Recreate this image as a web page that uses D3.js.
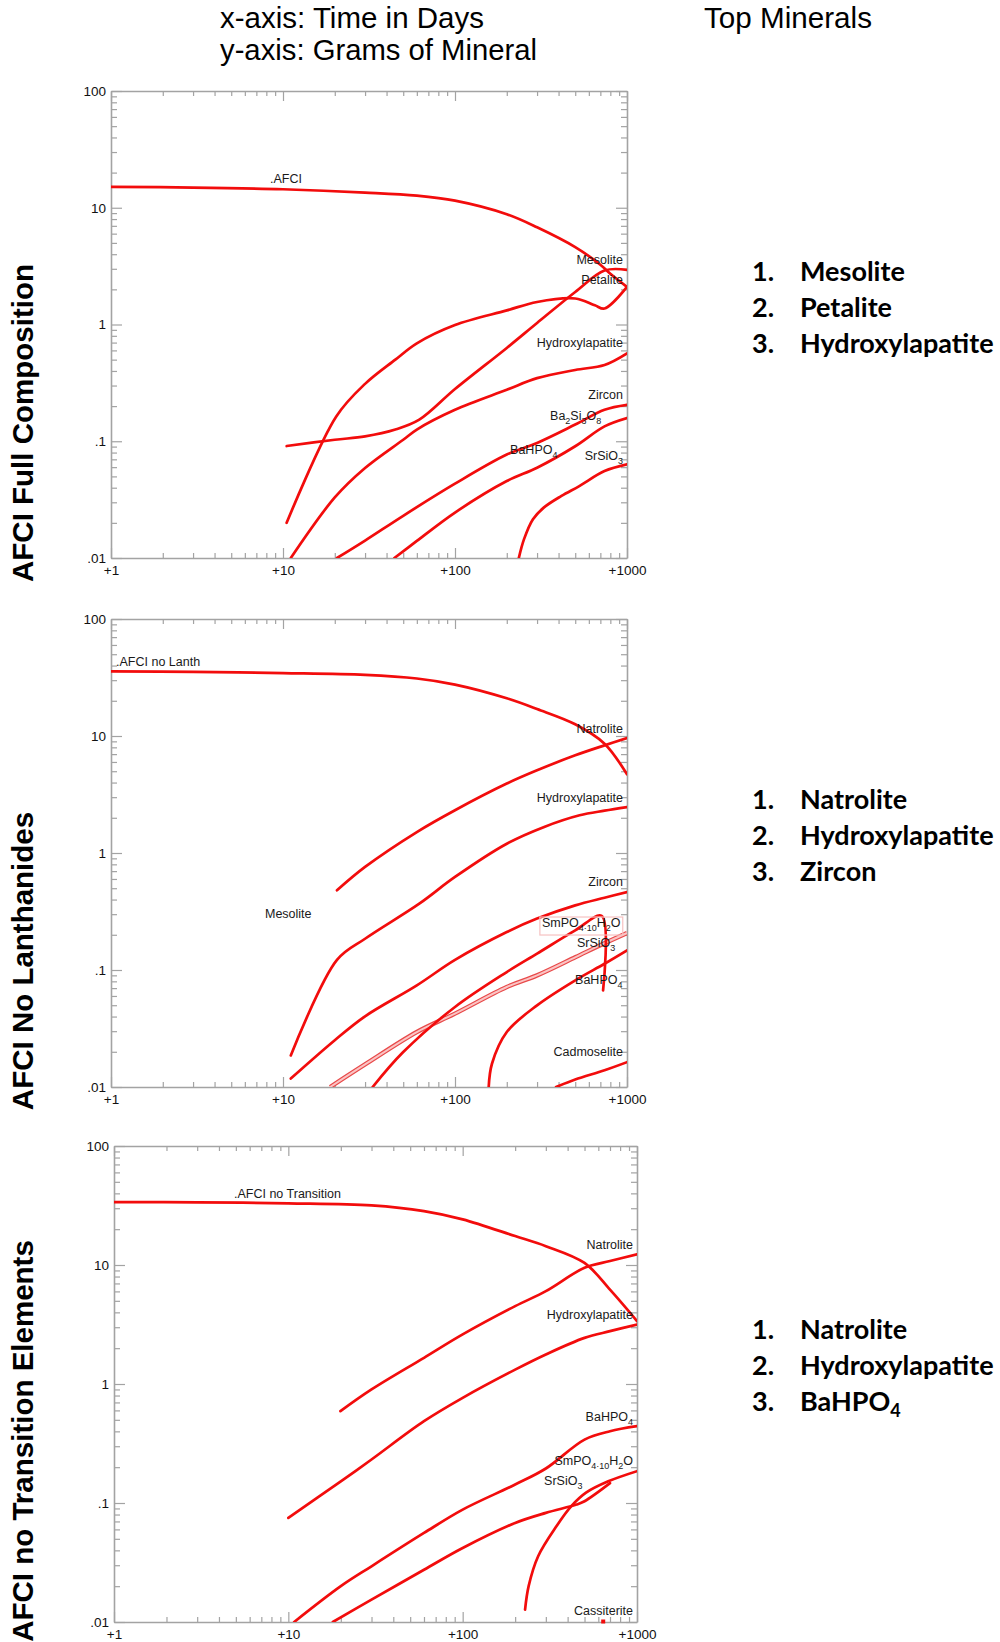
<!DOCTYPE html>
<html>
<head>
<meta charset="utf-8">
<script src="https://cdn.jsdelivr.net/npm/d3@7"></script>
<style>
	body { margin: 0; background: #fff; }
	svg { display: block; }
</style>
</head>
<body>
<script>
// values, each point is [days, grams]
var xTicks = [1, 10, 100, 1000];
var yTicks = [0.01, 0.1, 1, 10, 100];

// AFCI full composition
var fullAfci = [[1, 15.1], [3, 14.9], [10, 14.4], [30, 13.5], [60, 12.7], [100, 11.5], [200, 8.8], [300, 6.8], [500, 4.6], [700, 3.25], [800, 2.72], [1000, 2.1]];
var fullMesolite = [[10.5, 0.091], [20, 0.103], [30, 0.11], [45, 0.126], [62, 0.153], [100, 0.28], [200, 0.63], [300, 1.03], [500, 1.9], [740, 2.9], [1000, 2.94]];
var fullPetalite = [[10.5, 0.02], [20.4, 0.163], [30, 0.31], [45, 0.5], [60, 0.69], [100, 0.99], [200, 1.32], [300, 1.56], [500, 1.67], [650, 1.46], [740, 1.37], [1000, 2.1]];
var fullHydroxylapatite = [[11.1, 0.01], [20, 0.033], [30, 0.059], [50, 0.103], [60, 0.126], [100, 0.186], [200, 0.276], [300, 0.347], [500, 0.408], [740, 0.45], [1000, 0.566]];
var fullZircon = [[20.6, 0.01], [30, 0.0141], [50, 0.023], [100, 0.0433], [200, 0.0769], [300, 0.0968], [500, 0.139], [740, 0.186], [1000, 0.205]];
var fullBa2Si3O8 = [[44.4, 0.01], [60, 0.014], [100, 0.0245], [200, 0.0456], [300, 0.0593], [500, 0.0906], [740, 0.134], [1000, 0.158]];
var fullSrSiO3 = [[235, 0.01], [252, 0.0145], [284, 0.0215], [328, 0.027], [416, 0.034], [528, 0.0413], [740, 0.0555], [1000, 0.0633]];
var fullTop = ["Mesolite", "Petalite", "Hydroxylapatite"];
var fullLabels = [
	[".AFCI", 8.4, 16.4, "start"], ["Mesolite", 1000, 3.27, "end"], ["Petalite", 1000, 2.23, "end"],
	["Hydroxylapatite", 1000, 0.637, "end"], ["Zircon", 1000, 0.231, "end"], ["Ba_2Si_3O_8", 357, 0.153, "start"],
	["BaHPO_4", 209, 0.078, "start"], ["SrSiO_3", 1000, 0.069, "end"]
];

// AFCI no lanthanides
var lanthAfci = [[1, 35.7], [3, 35.3], [10, 34.5], [30, 33.3], [60, 31], [100, 27.5], [200, 21], [300, 17], [500, 12.6], [740, 8.6], [1000, 4.7]];
var lanthNatrolite = [[20.6, 0.48], [30, 0.76], [60, 1.51], [100, 2.32], [200, 3.92], [300, 5.09], [500, 6.84], [740, 8.32], [1000, 9.6]];
var lanthHydroxylapatite = [[11.1, 0.0186], [20.6, 0.122], [30, 0.185], [62, 0.369], [100, 0.624], [200, 1.2], [330, 1.67], [530, 2.1], [740, 2.3], [1000, 2.47]];
var lanthZircon = [[11.1, 0.0118], [20, 0.0251], [30, 0.0402], [60, 0.0739], [100, 0.122], [200, 0.211], [300, 0.275], [500, 0.357], [740, 0.415], [1000, 0.464]];
var lanthSmPO4 = [[33.2, 0.01], [50, 0.0199], [100, 0.0483], [200, 0.0961], [300, 0.138], [500, 0.218], [712, 0.29], [726, 0.067]];
var lanthSrSiO3 = [[18.8, 0.01], [30, 0.0156], [60, 0.0295], [100, 0.0424], [200, 0.0716], [300, 0.09], [503, 0.129], [700, 0.163], [1000, 0.207]];
var lanthBaHPO4 = [[157, 0.01], [164, 0.0158], [200, 0.0295], [300, 0.0499], [500, 0.0816], [740, 0.113], [1000, 0.147]];
var lanthCadmoselite = [[387, 0.01], [500, 0.0116], [740, 0.0139], [1000, 0.0163]];
var lanthTop = ["Natrolite", "Hydroxylapatite", "Zircon"];
var lanthLabels = [
	[".AFCI no Lanth", 1.07, 39.6, "start"], ["Natrolite", 1000, 10.6, "end"], ["Hydroxylapatite", 1000, 2.73, "end"],
	["Mesolite", 7.86, 0.278, "start"], ["Zircon", 1000, 0.522, "end"], ["SmPO_{4·10}H_2O", 320, 0.233, "start", true],
	["SrSiO_3", 512, 0.157, "start"], ["BaHPO_4", 499, 0.0759, "start"], ["Cadmoselite", 1000, 0.0184, "end"]
];

// AFCI no transition elements
var transAfci = [[1, 33.8], [3, 33.6], [10, 33], [30, 31.7], [60, 28.4], [100, 24.2], [200, 17.5], [300, 14.4], [500, 10.4], [700, 6.2], [1000, 3.38]];
var transNatrolite = [[19.9, 0.591], [30, 0.9], [60, 1.66], [100, 2.61], [200, 4.51], [300, 6.03], [500, 9.48], [700, 10.8], [1000, 12.3]];
var transHydroxylapatite = [[10, 0.075], [20, 0.152], [30, 0.232], [60, 0.487], [100, 0.765], [200, 1.32], [300, 1.77], [500, 2.44], [700, 2.78], [1000, 3.16]];
var transBaHPO4 = [[10.8, 0.01], [20, 0.02], [30, 0.0294], [60, 0.056], [100, 0.088], [200, 0.143], [300, 0.195], [500, 0.341], [700, 0.401], [1000, 0.442]];
var transSrSiO3 = [[18, 0.01], [30, 0.0154], [60, 0.0275], [100, 0.0419], [200, 0.068], [300, 0.0826], [450, 0.097], [500, 0.1035], [700, 0.147]];
var transSmPO4 = [[228, 0.0127], [239, 0.02], [271, 0.0357], [345, 0.0637], [420, 0.094], [510, 0.122], [684, 0.152], [1000, 0.185]];
var transCassiterite = [[640, 0.01]];
var transTop = ["Natrolite", "Hydroxylapatite", "BaHPO_4"];
var transLabels = [
	[".AFCI no Transition", 4.88, 36.6, "start"], ["Natrolite", 1000, 13.6, "end"], ["Hydroxylapatite", 1000, 3.52, "end"],
	["BaHPO_4", 1000, 0.489, "end"], ["SmPO_{4·10}H_2O", 1000, 0.208, "end"], ["SrSiO_3", 293, 0.142, "start"],
	["Cassiterite", 1000, 0.0115, "end"]
];

var panels = [
	{ title: "AFCI Full Composition", left: 111, right: 627, top: 91, bottom: 558, titleY: 423, listY: 281,
		lines: [fullAfci, fullMesolite, fullPetalite, fullHydroxylapatite, fullZircon, fullBa2Si3O8, fullSrSiO3],
		pink: [], dots: [], labels: fullLabels, top3: fullTop },
	{ title: "AFCI No Lanthanides", left: 111, right: 627, top: 619, bottom: 1087, titleY: 961, listY: 809,
		lines: [lanthAfci, lanthNatrolite, lanthHydroxylapatite, lanthZircon, lanthSmPO4, lanthBaHPO4, lanthCadmoselite],
		pink: [lanthSrSiO3], dots: [], labels: lanthLabels, top3: lanthTop },
	{ title: "AFCI no Transition Elements", left: 114, right: 637, top: 1146, bottom: 1622, titleY: 1441, listY: 1339,
		lines: [transAfci, transNatrolite, transHydroxylapatite, transBaHPO4, transSrSiO3, transSmPO4],
		pink: [], dots: transCassiterite, labels: transLabels, top3: transTop }
];

var RED = "#f20c0c", GREY = "#a3a3a3";
var ARIAL = "'Liberation Sans', Arial, sans-serif";
var LIST = "Lato, 'Open Sans', sans-serif";

var svg = d3.select("body").append("svg").attr("width", 1000).attr("height", 1642);

// writes "BaHPO_4" / "SmPO_{4·10}H_2O" with real subscripts
function rich(text, str, subSize, shift) {
	var pending = 0;
	str.split(/(_\{[^}]*\}|_.)/).forEach(function(p) {
		if (!p) return;
		var t = text.append("tspan");
		if (p.charAt(0) == "_") {
			t.attr("dy", shift).attr("font-size", subSize).text(p.charAt(1) == "{" ? p.slice(2, -1) : p.slice(1));
			pending = -shift;
		} else {
			if (pending) t.attr("dy", pending);
			pending = 0;
			t.text(p);
		}
	});
	return text;
}

function isMajor(v) {
	var l = Math.log10(v);
	return Math.abs(l - Math.round(l)) < 1e-6;
}

function styleAxis(g, keepDomain) {
	g.attr("font-family", ARIAL).attr("font-size", 13.5);
	g.selectAll(".tick line").attr("stroke", GREY).attr("stroke-width", 1.2);
	g.selectAll(".tick text").attr("fill", "#111");
	if (keepDomain) g.select(".domain").attr("stroke", GREY).attr("stroke-width", 1.6);
	else g.select(".domain").remove();
}

function drawPanel(p, i) {
	var x = d3.scaleLog().domain([1, 1000]).range([p.left, p.right]);
	var y = d3.scaleLog().domain([0.01, 100]).range([p.bottom, p.top]);
	var g = svg.append("g");
	var xMinor = x.ticks().filter(function(d) { return !isMajor(d); });
	var yMinor = y.ticks().filter(function(d) { return !isMajor(d); });

	// minor ticks on all four sides, pointing in
	g.append("g").attr("transform", "translate(0," + p.bottom + ")")
		.call(d3.axisBottom(x).tickValues(xMinor).tickSize(-5).tickSizeOuter(0).tickFormat("")).call(styleAxis, false);
	g.append("g").attr("transform", "translate(0," + p.top + ")")
		.call(d3.axisTop(x).tickValues(xMinor).tickSize(-5).tickSizeOuter(0).tickFormat("")).call(styleAxis, false);
	g.append("g").attr("transform", "translate(" + p.left + ",0)")
		.call(d3.axisLeft(y).tickValues(yMinor).tickSize(-6).tickSizeOuter(0).tickFormat("")).call(styleAxis, false);
	g.append("g").attr("transform", "translate(" + p.right + ",0)")
		.call(d3.axisRight(y).tickValues(yMinor).tickSize(-6).tickSizeOuter(0).tickFormat("")).call(styleAxis, false);

	// major ticks, labels and the frame
	g.append("g").attr("transform", "translate(0," + p.bottom + ")")
		.call(d3.axisBottom(x).tickValues(xTicks).tickSize(-10).tickSizeOuter(0).tickPadding(7)
			.tickFormat(function(d) { return "+" + d; })).call(styleAxis, true);
	g.append("g").attr("transform", "translate(0," + p.top + ")")
		.call(d3.axisTop(x).tickValues(xTicks).tickSize(-10).tickSizeOuter(0).tickFormat("")).call(styleAxis, true);
	g.append("g").attr("transform", "translate(" + p.left + ",0)")
		.call(d3.axisLeft(y).tickValues(yTicks).tickSize(-11).tickSizeOuter(0).tickPadding(5)
			.tickFormat(function(d) { return d >= 1 ? String(d) : String(d).replace(/^0/, ""); })).call(styleAxis, true);
	g.append("g").attr("transform", "translate(" + p.right + ",0)")
		.call(d3.axisRight(y).tickValues(yTicks).tickSize(-11).tickSizeOuter(0).tickFormat("")).call(styleAxis, true);

	var clipId = "clip" + i;
	svg.append("clipPath").attr("id", clipId).append("rect")
		.attr("x", p.left).attr("y", p.top).attr("width", p.right - p.left).attr("height", p.bottom - p.top);

	var line = d3.line()
		.x(function(d) { return x(d[0]); })
		.y(function(d) { return y(d[1]); })
		.curve(d3.curveCatmullRom.alpha(0.5));

	var plot = g.append("g").attr("clip-path", "url(#" + clipId + ")");
	plot.selectAll(".pink-o").data(p.pink).enter().append("path")
		.attr("d", line).attr("fill", "none").attr("stroke", "#e84a4a").attr("stroke-width", 4.4);
	plot.selectAll(".pink-i").data(p.pink).enter().append("path")
		.attr("d", line).attr("fill", "none").attr("stroke", "#fbc4c4").attr("stroke-width", 2);
	plot.selectAll(".curve").data(p.lines).enter().append("path")
		.attr("class", "curve").attr("d", line)
		.attr("fill", "none").attr("stroke", RED).attr("stroke-width", 2.7)
		.attr("stroke-linejoin", "round").attr("stroke-linecap", "round");
	g.selectAll(".dot").data(p.dots).enter().append("rect")
		.attr("x", function(d) { return x(d[0]) - 2; }).attr("y", function(d) { return y(d[1]) - 2.5; })
		.attr("width", 4).attr("height", 4).attr("fill", RED);

	// curve names
	p.labels.forEach(function(l) {
		var t = g.append("text")
			.attr("x", x(l[1]) + (l[3] == "end" ? -4 : 0)).attr("y", y(l[2]))
			.attr("text-anchor", l[3]).attr("font-family", ARIAL).attr("font-size", 12.5).attr("fill", "#1a1a1a");
		rich(t, l[0], 9, 4);
		if (l[4]) {
			var b = t.node().getBBox();
			g.insert("rect", function() { return t.node(); })
				.attr("x", b.x - 2).attr("y", b.y + 1).attr("width", b.width + 4).attr("height", b.height + 1)
				.attr("fill", "none").attr("stroke", "#f6c2c2").attr("stroke-width", 1.2);
		}
	});

	// panel title on the left
	svg.append("text")
		.attr("transform", "translate(33," + p.titleY + ") rotate(-90)")
		.attr("text-anchor", "middle").attr("font-family", ARIAL).attr("font-weight", "bold")
		.attr("font-size", 29.5).attr("fill", "#000").text(p.title);

	// top minerals list
	p.top3.forEach(function(name, k) {
		var yy = p.listY + k * 36;
		svg.append("text").attr("x", 752).attr("y", yy)
			.attr("font-family", LIST).attr("font-weight", "bold").attr("font-size", 27)
			.text((k + 1) + ".");
		rich(svg.append("text").attr("x", 800).attr("y", yy)
			.attr("font-family", LIST).attr("font-weight", "bold").attr("font-size", 27),
			name, 18, 6);
	});
}

panels.forEach(drawPanel);

// header
var HEAD = "'Liberation Sans Narrow', 'Liberation Sans', Arial, sans-serif";
svg.append("text").attr("x", 220).attr("y", 28).attr("font-family", HEAD).attr("font-size", 30)
	.attr("textLength", 264).attr("lengthAdjust", "spacingAndGlyphs").text("x-axis: Time in Days");
svg.append("text").attr("x", 220).attr("y", 60).attr("font-family", HEAD).attr("font-size", 30)
	.attr("textLength", 317).attr("lengthAdjust", "spacingAndGlyphs").text("y-axis: Grams of Mineral");
svg.append("text").attr("x", 704).attr("y", 28).attr("font-family", HEAD).attr("font-size", 30)
	.attr("textLength", 168).attr("lengthAdjust", "spacingAndGlyphs").text("Top Minerals");
</script>
</body>
</html>
